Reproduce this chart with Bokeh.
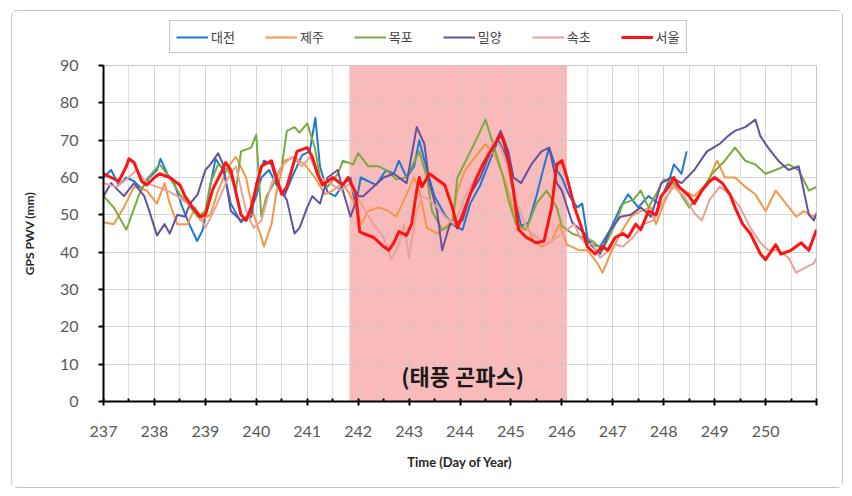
from bokeh.plotting import figure
from bokeh.layouts import column
from bokeh.models import FixedTicker, BoxAnnotation, Legend, LegendItem
from bokeh.core.properties import value
from bokeh.embed import file_html
from bokeh.resources import INLINE

# ---------------- data (day of year, GPS PWV mm) ----------------
daejeon = [(237.0,60),(237.15,62),(237.3,58),(237.45,60),(237.6,59),(237.75,57),(237.9,60),(238.05,62),
           (238.12,65),(238.25,61),(238.4,58),(238.55,52),(238.7,47),(238.84,43),(238.95,46),(239.1,58),
           (239.2,65),(239.35,62),(239.5,53),(239.7,48),(239.85,50),(240.0,55),(240.1,60),(240.25,62),
           (240.4,58),(240.55,55),(240.7,60),(240.9,66),(241.05,67),(241.16,76),(241.25,63),(241.4,56),
           (241.55,55),(241.7,58),(241.85,60),(241.95,52),(242.05,60),(242.2,59),(242.35,58),(242.55,62),
           (242.7,61),(242.8,64.5),(242.95,60),(243.1,63),(243.2,70),(243.35,62),(243.5,55),(243.7,50),
           (243.9,47),(244.05,46),(244.2,53),(244.4,58),(244.6,65),(244.75,70),(244.9,66),(245.05,56),
           (245.2,47),(245.35,48),(245.5,55),(245.65,63),(245.75,68),(245.9,62),(246.0,60),(246.15,55),
           (246.3,52),(246.4,53),(246.5,44),(246.6,42),(246.75,41.5),(246.95,46),(247.15,52),(247.3,55.5),
           (247.5,52),(247.7,55),(247.9,53),(248.1,59),(248.2,63.5),(248.35,61),(248.45,67)]

jeju = [(237.0,48),(237.2,47.5),(237.4,52),(237.6,57.5),(237.85,56.5),(238.05,53),(238.2,58.5),(238.3,53),
        (238.45,47.5),(238.65,47.5),(238.8,52),(238.9,48.5),(239.1,50),(239.25,56.5),(239.45,63),(239.6,65.5),
        (239.8,60),(239.95,50),(240.1,44),(240.15,41.5),(240.3,47.5),(240.4,56.5),(240.55,64.5),(240.75,65.5),
        (240.95,63.5),(241.15,60),(241.35,55.5),(241.5,56.5),(241.7,58.5),(241.9,54),(242.05,47.5),(242.2,51),
        (242.4,52),(242.6,51),(242.75,49.5),(242.95,55.5),(243.1,60),(243.2,56.5),(243.35,46.5),(243.55,45),
        (243.7,46.5),(243.85,48.5),(243.95,56.5),(244.1,62),(244.3,65.5),(244.5,69),(244.7,65.5),(244.9,58.5),
        (245.05,51),(245.2,46),(245.3,47.5),(245.45,43),(245.6,41.5),(245.8,43),(245.95,47.5),(246.1,42),
        (246.35,40.5),(246.5,40.5),(246.7,37),(246.8,34.5),(246.95,39.5),(247.15,45),(247.35,49.5),(247.55,51),
        (247.75,52),(247.85,47.5),(248.0,53),(248.2,58.5),(248.4,56.5),(248.6,55),(248.85,58.5),(249.05,64.5),
        (249.2,60),(249.4,60),(249.6,57.5),(249.8,55.5),(250.0,51),(250.2,56.5),(250.4,53),(250.6,49.5),
        (250.75,51),(250.95,49.5),(251.0,50)]

mokpo = [(237.0,55),(237.2,52),(237.45,46),(237.7,55.5),(237.85,59.5),(238.1,63.5),(238.3,60),(238.5,55.5),
         (238.65,53),(238.85,49.5),(239.0,51),(239.1,58.5),(239.25,63.5),(239.45,62),(239.6,56.5),(239.7,67),
         (239.9,68),(240.0,71.5),(240.05,60),(240.1,49.5),(240.2,55),(240.35,58.5),(240.5,63),(240.6,72.5),
         (240.75,73.5),(240.85,72),(241.0,74.5),(241.15,68),(241.25,60),(241.4,57.5),(241.6,61),(241.7,64.5),
         (241.9,63.5),(242.0,66.5),(242.2,63),(242.4,63),(242.55,62),(242.75,59.5),(242.95,60),(243.2,67),
         (243.35,60),(243.45,51),(243.65,46),(243.85,47.5),(243.95,60),(244.15,65.5),(244.35,71),(244.5,75.5),
         (244.65,69),(244.85,60),(244.95,54),(245.1,47.5),(245.3,46),(245.5,53),(245.7,56.5),(245.9,52),
         (246.0,47),(246.2,45),(246.4,44),(246.6,43),(246.8,40.5),(247.05,47.5),(247.2,53),(247.4,54),
         (247.55,56.5),(247.7,52),(247.85,55.5),(248.0,59.5),(248.2,58.5),(248.5,52),(248.7,55.5),(248.95,61),
         (249.2,64.5),(249.4,68),(249.6,64.5),(249.8,63.5),(250.0,61),(250.2,62),(250.45,63.5),(250.65,62),
         (250.85,56.5),(251.0,57.5)]

miryang = [(237.0,55),(237.15,58.5),(237.4,55),(237.6,58.5),(237.8,55),(237.9,51),(238.05,44.5),(238.2,47.5),
           (238.3,45),(238.45,50),(238.6,49.5),(238.7,53),(238.85,55.5),(239.0,62),(239.1,63.5),(239.25,66.5),
           (239.35,63.5),(239.5,51),(239.7,48.5),(239.9,49.5),(240.0,58.5),(240.15,64.5),(240.3,63.5),(240.4,58.5),
           (240.6,54),(240.75,45),(240.85,46.5),(241.0,52),(241.1,55),(241.25,53),(241.4,60),(241.6,62),
           (241.7,56.5),(241.85,49.5),(242.0,55),(242.1,55),(242.3,57.5),(242.5,60),(242.7,61),(242.95,58.5),
           (243.15,73.5),(243.3,69),(243.4,58.5),(243.55,51),(243.65,40.5),(243.8,47.5),(244.05,48.5),(244.2,55.5),
           (244.4,60),(244.6,67),(244.8,72.5),(244.95,67),(245.05,60),(245.2,58.5),(245.4,63.5),(245.6,67),
           (245.75,68),(245.9,58.5),(246.0,56.5),(246.2,48),(246.45,45),(246.5,43),(246.75,39.5),(246.95,46),
           (247.15,49.5),(247.35,50),(247.55,52),(247.75,49.5),(247.95,58.5),(248.15,60),(248.35,58.5),(248.6,62),
           (248.85,67),(249.1,69),(249.25,71),(249.4,72.5),(249.6,73.5),(249.8,75.5),(249.9,71),(250.05,68),
           (250.25,64.5),(250.45,62),(250.65,63),(250.85,50),(250.95,48.5),(251.0,50.5)]

sokcho = [(237.0,58.5),(237.25,57.5),(237.45,59.5),(237.65,62),(237.85,58.5),(238.05,57.5),(238.25,56.5),
          (238.45,55),(238.65,53),(238.85,51),(239.0,46.5),(239.2,52),(239.45,60),(239.6,63),(239.8,51),
          (239.95,46.5),(240.1,48.5),(240.3,58.5),(240.5,63),(240.7,65.5),(240.9,63),(241.05,65.5),(241.25,60),
          (241.45,58.5),(241.65,56.5),(241.85,58.5),(241.9,56.5),(242.1,52),(242.3,47.5),(242.5,44),(242.65,38),
          (242.8,42),(242.9,47.5),(243.0,38.5),(243.15,51),(243.25,55),(243.4,54),(243.55,52),(243.7,49.5),
          (243.9,47.5),(244.1,55),(244.3,60),(244.5,65.5),(244.7,70),(244.8,68),(244.95,62),(245.1,54),
          (245.3,46.5),(245.5,44),(245.7,42),(245.9,44),(246.1,46),(246.25,47.5),(246.35,44),(246.5,42),
          (246.6,42.3),(246.75,38.5),(247.05,42),(247.2,41.5),(247.4,44),(247.6,47.5),(247.8,48.5),(248.0,54),
          (248.2,57.5),(248.4,55),(248.6,50.5),(248.75,48.5),(248.9,54),(249.1,57.5),(249.3,55.5),(249.5,52),
          (249.7,46.5),(249.9,42.5),(250.05,40.5),(250.25,40.5),(250.45,38.5),(250.6,34.5),(250.8,36),
          (250.95,37),(251.0,38.5)]

seoul = [(237.0,61),(237.15,60),(237.3,59),(237.45,63),(237.5,65),(237.6,64),(237.75,59),(237.85,58),
         (238.0,60),(238.1,61),(238.3,60),(238.5,58),(238.6,55),(238.75,52),(238.9,49.5),(239.0,50),
         (239.15,57),(239.3,61),(239.4,64),(239.5,62),(239.6,56),(239.7,50),(239.8,48.5),(239.9,52),
         (240.1,63),(240.3,64.5),(240.35,62),(240.5,55.5),(240.6,57.5),(240.8,67),(241.0,68),(241.1,65.5),
         (241.2,61),(241.3,58),(241.5,60),(241.7,58),(241.8,60),(241.95,56),(242.03,45.5),(242.1,45),
         (242.3,44),(242.5,41.5),(242.6,40.5),(242.7,42.5),(242.8,45.5),(242.95,44.5),(243.05,47.5),(243.15,56.5),
         (243.2,60),(243.25,57.5),(243.4,61),(243.6,59),(243.7,58),(243.85,52),(243.95,46.5),(244.05,50),
         (244.2,55.5),(244.3,59),(244.45,63.5),(244.6,67),(244.8,71.5),(244.85,70),(244.95,64.5),(245.05,56.5),
         (245.15,46),(245.3,44),(245.5,42.5),(245.65,43),(245.8,52),(245.9,63.5),(246.0,64.5),(246.1,60),
         (246.25,52),(246.4,46),(246.5,41.5),(246.65,39.5),(246.8,41.5),(246.9,40.5),(247.05,44),(247.2,45),
         (247.3,44),(247.45,47.5),(247.55,46),(247.7,51),(247.85,50),(247.95,55),(248.1,57.5),(248.2,60),
         (248.3,57.5),(248.5,55),(248.6,53),(248.75,56.5),(248.9,59),(249.0,60),(249.15,58.5),(249.3,55.5),
         (249.4,52),(249.55,47.5),(249.7,45),(249.9,39.5),(250.0,38),(250.2,42),(250.3,39.5),(250.5,40.5),
         (250.7,42.5),(250.85,40.5),(251.0,46)]

series_names = ["대전", "제주", "목포", "밀양", "속초", "서울"]
series_data = [daejeon, jeju, mokpo, miryang, sokcho, seoul]
series_colors = ["#1f78d1", "#f79646", "#7aab3e", "#6650a0", "#e9a29b", "#ff1414"]
series_widths = [2, 2, 2, 2, 2, 3]

x_ticks = list(range(237, 252))
x_minor = [t + 0.5 for t in range(237, 251)]
y_ticks = list(range(0, 91, 10))
typhoon_start, typhoon_end = 241.83, 246.1
typhoon_label = "(태풍 곤파스)"
typhoon_label_x, typhoon_label_y = 244.05, 7.2

KFONT = "Noto Sans CJK KR"
NFONT = "Lato"
W = 830

# ---------------- main chart ----------------
p = figure(width=W, height=432, x_range=(237, 251), y_range=(0, 90),
           output_backend="svg", toolbar_location=None,
           min_border_left=91, min_border_right=26, min_border_top=10, min_border_bottom=86)

p.add_layout(BoxAnnotation(left=typhoon_start, right=typhoon_end, fill_color="#fbbaba",
                           fill_alpha=1.0, line_alpha=0, level="image"))

p.xaxis.ticker = FixedTicker(ticks=x_ticks, minor_ticks=x_minor)
p.yaxis.ticker = FixedTicker(ticks=y_ticks)
p.xgrid.ticker = FixedTicker(ticks=x_ticks, minor_ticks=x_minor)
p.xgrid.grid_line_color = "#c8c8c8"
p.xgrid.grid_line_alpha = 0.8
p.xgrid.minor_grid_line_color = "#c8c8c8"
p.xgrid.minor_grid_line_alpha = 0.6
p.ygrid.grid_line_color = "#c8c8c8"
p.ygrid.grid_line_alpha = 0.7
p.outline_line_color = "#c8c8c8"

p.xaxis.major_label_overrides = {t: (str(t) if t < 251 else "") for t in x_ticks}

for ax in (p.xaxis[0], p.yaxis[0]):
    ax.axis_line_color = "black"
    ax.axis_line_width = 2
    ax.major_tick_line_color = "black"
    ax.major_tick_line_width = 2
    ax.major_label_text_font = NFONT
    ax.major_label_text_font_size = "16px"
    ax.major_label_text_color = "#595959"
    ax.axis_label_text_font = NFONT
    ax.axis_label_text_font_style = "bold"
    ax.axis_label_text_color = "#262626"

p.xaxis.major_tick_in = 3
p.xaxis.major_tick_out = 4
p.xaxis.minor_tick_in = 3
p.xaxis.minor_tick_out = 0
p.xaxis.minor_tick_line_color = "black"
p.xaxis.minor_tick_line_width = 2
p.xaxis.major_label_standoff = 20
p.xaxis.axis_label = "Time (Day of Year)"
p.xaxis.axis_label_text_font_size = "13px"
p.xaxis.axis_label_standoff = 14

p.yaxis.major_tick_in = 0
p.yaxis.major_tick_out = 5
p.yaxis.minor_tick_line_color = None
p.yaxis.major_label_standoff = 20
p.yaxis.axis_label = "GPS PWV (mm)"
p.yaxis.axis_label_text_font_size = "12px"
p.yaxis.axis_label_standoff = 20

for data, col, w in zip(series_data, series_colors, series_widths):
    xs = [d for d, v in data]
    ys = [v for d, v in data]
    p.line(xs, ys, line_color=col, line_width=w, line_join="round")

p.text(x=[typhoon_label_x], y=[typhoon_label_y], text=[typhoon_label],
       text_font=value(KFONT), text_font_style="bold", text_font_size="22px",
       text_align="center", text_baseline="middle", text_color="#1a1a1a")

# ---------------- legend strip (handles only, drawn off-range) ----------------
lf = figure(width=W, height=44, x_range=(0, 1), y_range=(0, 1),
            output_backend="svg", toolbar_location=None,
            x_axis_type=None, y_axis_type=None, min_border=0)
lf.outline_line_color = None
lf.grid.visible = False
items = []
for name, col, w in zip(series_names, series_colors, series_widths):
    r = lf.line([-3, -2], [-3, -2], line_color=col, line_width=w)
    items.append(LegendItem(label=name, renderers=[r]))

legend = Legend(items=items, orientation="horizontal", location=(66, 2),
                padding=6, margin=0, spacing=30, glyph_width=32, glyph_height=16,
                label_height=16, label_standoff=3,
                label_text_font=KFONT, label_text_font_size="13px",
                label_text_color="#404040",
                border_line_color="#8c8c8c", border_line_width=1,
                background_fill_color="white", background_fill_alpha=1)
lf.add_layout(legend, "center")

page = column(lf, p, spacing=0,
              styles={"border": "1px solid #c4c4c4", "border-radius": "6px",
                      "margin-left": "11px", "margin-top": "10px"})

open("out.html", "w").write(file_html(page, INLINE))
